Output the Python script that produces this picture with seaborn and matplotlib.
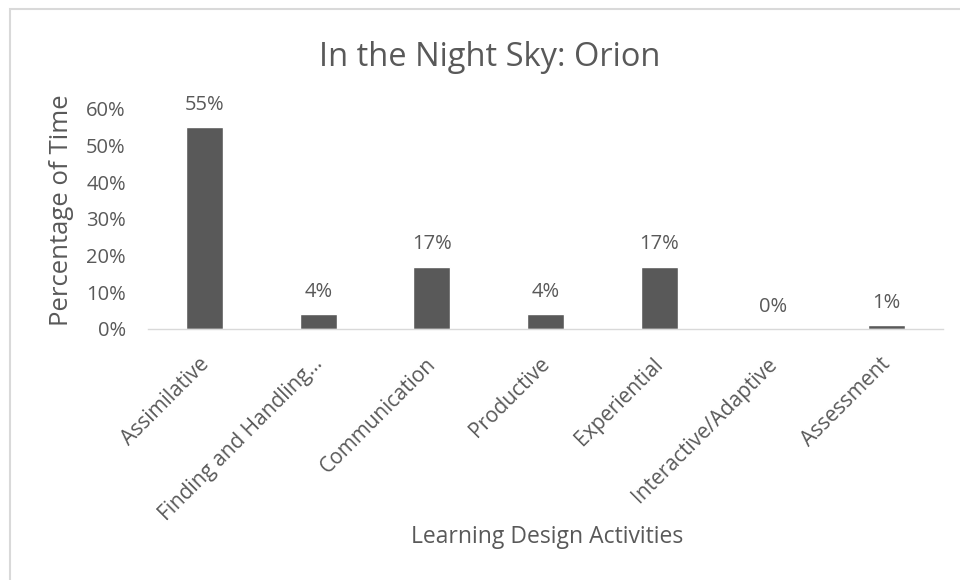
import matplotlib
matplotlib.use("Agg")
import matplotlib.pyplot as plt
import matplotlib.transforms as mtransforms
from matplotlib.patches import Rectangle
from matplotlib.ticker import PercentFormatter
import seaborn as sns
import pandas as pd

TITLE = "In the Night Sky: Orion"
X_LABEL = "Learning Design Activities"
Y_LABEL = "Percentage of Time"

activities = ["Assimilative", "Finding and Handling...", "Communication",
              "Productive", "Experiential", "Interactive/Adaptive", "Assessment"]
time_share = [0.55, 0.04, 0.17, 0.04, 0.17, 0.00, 0.01]

TEXT_GREY = "#595959"
BAR_GREY = "#595959"

sns.set_style("white")
plt.rcParams['font.family'] = ['Open Sans', 'DejaVu Sans']

df = pd.DataFrame({"activity": activities, "share": time_share})

fig = plt.figure(figsize=(9.6, 5.8), dpi=100)
ax = fig.add_axes([148 / 960, 1 - 329 / 580, 795 / 960, 220 / 580])

sns.barplot(data=df, x="activity", y="share", color=BAR_GREY,
            width=0.325, saturation=1, ax=ax)

ax.set_ylim(0, 0.6)
ax.set_yticks([i / 10 for i in range(7)])
ax.yaxis.set_major_formatter(PercentFormatter(1.0, decimals=0))
ax.tick_params(axis="both", length=0, colors=TEXT_GREY)
ax.tick_params(axis="y", pad=16, labelsize=14.5)

for side in ["top", "right", "left"]:
    ax.spines[side].set_visible(False)
ax.spines["bottom"].set_color("#d9d9d9")
ax.spines["bottom"].set_linewidth(1)

# data labels
for cont in ax.containers:
    ax.bar_label(cont, labels=[f"{v:.0%}" for v in time_share],
                 padding=9, color=TEXT_GREY, fontsize=14.5)

# rotated category labels, anchored at their right end
offset = mtransforms.ScaledTranslation(0.01, -0.27, fig.dpi_scale_trans)
for lbl in ax.get_xticklabels():
    lbl.set_rotation(45)
    lbl.set_ha("right")
    lbl.set_va("center")
    lbl.set_rotation_mode("anchor")
    lbl.set_transform(lbl.get_transform() + offset)
    lbl.set_fontsize(15)
    lbl.set_color(TEXT_GREY)

ax.set_xlabel("")
ax.set_ylabel("")

fig.text(62 / 960, 1 - 210 / 580, Y_LABEL, rotation=90, ha="center",
         va="center", fontsize=18.5, color=TEXT_GREY)
fig.text(547 / 960, 1 - 537 / 580, X_LABEL, ha="center", va="center",
         fontsize=16.5, color=TEXT_GREY)
fig.text(490 / 960, 1 - 57 / 580, TITLE, ha="center", va="center",
         fontsize=23.5, color=TEXT_GREY)

# light chart border
fig.patches.append(Rectangle((10 / 960, -0.01), 1.0, 1 - 9 / 580 + 0.01,
                             transform=fig.transFigure, fill=False,
                             edgecolor="#d9d9d9", linewidth=1.5))

fig.savefig("out.png", dpi=100, facecolor="white")
